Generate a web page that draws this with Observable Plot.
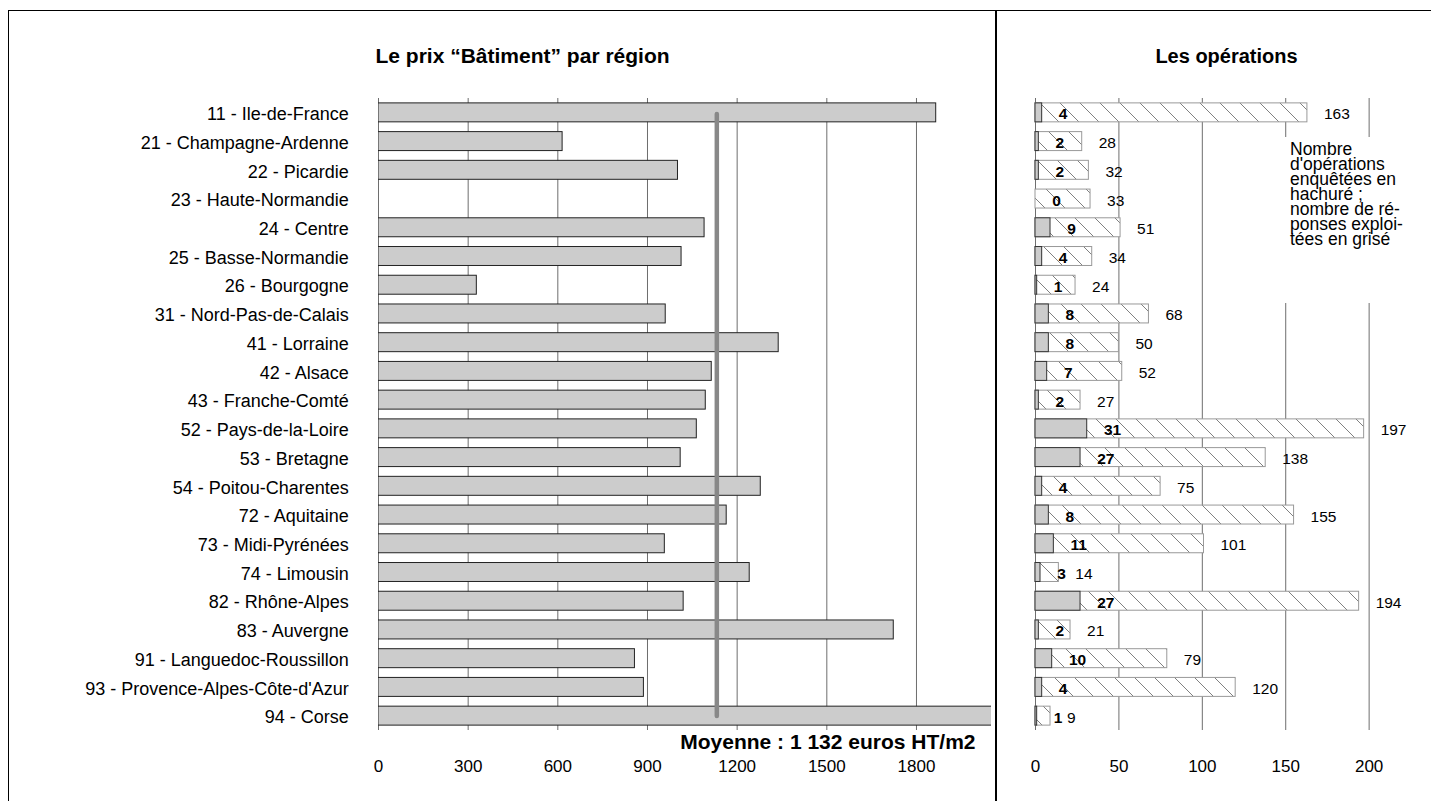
<!DOCTYPE html>
<html>
<head>
<meta charset="utf-8">
<script src="https://cdn.jsdelivr.net/npm/d3@7"></script>
<script src="https://cdn.jsdelivr.net/npm/@observablehq/plot@0.6"></script>
<style>
  html, body { margin: 0; padding: 0; background: #fff; }
  body { font-family: "Liberation Sans", Arial, Helvetica, sans-serif; }
  #wrap { position: relative; width: 1431px; height: 801px; overflow: hidden; background: #fff; }
  #left, #right { position: absolute; top: 0; }
  #left { left: 0; }
  #right { left: 997px; }
  #frame { position: absolute; left: 8px; top: 10px; width: 1440px; height: 800px;
           border-top: 1.5px solid #000; border-left: 1.5px solid #000; box-sizing: border-box; }
  #divider { position: absolute; left: 995px; top: 10px; width: 2px; height: 800px; background: #000; }
  #note { position: absolute; left: 1280px; top: 137px; width: 140px; height: 166px; background: #fff;
          font-size: 17.5px; line-height: 15px; color: #000; box-sizing: border-box;
          padding-left: 10px; padding-top: 5px; white-space: pre; }
</style>
</head>
<body>
<div id="wrap">
  <svg width="0" height="0" style="position:absolute">
    <defs>
      <pattern id="hatch" patternUnits="userSpaceOnUse" width="20" height="20">
        <rect width="20" height="20" fill="#fff"></rect>
        <path d="M-5,-5L25,25M-5,15L5,25M15,-5L25,5" stroke="#808080" stroke-width="1"></path>
      </pattern>
    </defs>
  </svg>
  <div id="left"></div>
  <div id="right"></div>
  <div id="frame"></div>
  <div id="divider"></div>
  <div id="note"></div>
</div>
<script>
// ---- Data ----
const regions = [
  "11 - Ile-de-France", "21 - Champagne-Ardenne", "22 - Picardie", "23 - Haute-Normandie",
  "24 - Centre", "25 - Basse-Normandie", "26 - Bourgogne", "31 - Nord-Pas-de-Calais",
  "41 - Lorraine", "42 - Alsace", "43 - Franche-Comté", "52 - Pays-de-la-Loire",
  "53 - Bretagne", "54 - Poitou-Charentes", "72 - Aquitaine", "73 - Midi-Pyrénées",
  "74 - Limousin", "82 - Rhône-Alpes", "83 - Auvergne", "91 - Languedoc-Roussillon",
  "93 - Provence-Alpes-Côte-d'Azur", "94 - Corse"
];
const prices = [1866, 616, 1002, null, 1091, 1014, 329, 961, 1339, 1115, 1095, 1065,
                1011, 1279, 1165, 958, 1242, 1021, 1724, 858, 888, 2300];
const responses = [4, 2, 2, 0, 9, 4, 1, 8, 8, 7, 2, 31, 27, 4, 8, 11, 3, 27, 2, 10, 4, 1];
const operations = [163, 28, 32, 33, 51, 34, 24, 68, 50, 52, 27, 197, 138, 75, 155, 101, 14, 194, 21, 79, 120, 9];
const meanPrice = 1132;
const priceTicks = [0, 300, 600, 900, 1200, 1500, 1800];
const opTicks = [0, 50, 100, 150, 200];
const leftTitle = "Le prix “Bâtiment” par région";
const rightTitle = "Les opérations";
const meanLabel = "Moyenne : 1 132 euros HT/m2";
const noteLines = ["Nombre", "d'opérations", "enquêtées en", "hachuré ;", "nombre de ré-", "ponses exploi-", "tées en grisé"];

const priceData = regions.map((r, i) => ({region: r, price: prices[i]}));
const opData = regions.map((r, i) => ({region: r, resp: responses[i], total: operations[i]}));

const yScale = {domain: regions, axis: null, paddingInner: 0.34, paddingOuter: 0.17, round: false};
const font = "'Liberation Sans', Arial, Helvetica, sans-serif";

// ---- Left panel ----
const left = Plot.plot({
  width: 997, height: 801,
  marginLeft: 378, marginRight: 6, marginTop: 98, marginBottom: 71,
  style: {fontFamily: font, background: "transparent", overflow: "visible", color: "#000"},
  x: {domain: [0, 2051], axis: null},
  y: yScale,
  marks: [
    Plot.ruleX(priceTicks, {x: d => d, stroke: "#6e6e6e", strokeWidth: 1}),
    Plot.barX(priceData.filter(d => d.price != null), {x: "price", y: "region", fill: "#cccccc", stroke: "#222", strokeWidth: 1, clip: true}),
    Plot.ruleX([meanPrice], {x: d => d, stroke: "#888", strokeWidth: 4.5, strokeLinecap: "round", insetTop: 16, insetBottom: 14}),
    Plot.text(regions, {y: d => d, text: d => d, frameAnchor: "left", textAnchor: "end", dx: -29.7, dy: 1.5, fontSize: 18, fill: "#000"}),
    Plot.text(priceTicks, {x: d => d, text: d => String(d), frameAnchor: "bottom", dy: 41.5, fontSize: 17, fill: "#000"}),
    Plot.text([meanLabel], {text: d => d, frameAnchor: "bottom-right", textAnchor: "end", dx: -16, dy: 18, fontSize: 21, fontWeight: "bold", fill: "#000"}),
    Plot.text([leftTitle], {text: d => d, frameAnchor: "top-left", textAnchor: "start", dx: -3, dy: -50, fontSize: 21, fontWeight: "bold", fill: "#000"})
  ]
});
document.getElementById("left").appendChild(left);

// ---- Right panel ----
const right = Plot.plot({
  width: 434, height: 801,
  marginLeft: 38, marginRight: 29, marginTop: 98, marginBottom: 71,
  style: {fontFamily: font, background: "transparent", overflow: "visible", color: "#000"},
  x: {domain: [0, 220], axis: null},
  y: yScale,
  marks: [
    Plot.ruleX(opTicks, {x: d => d, stroke: "#6e6e6e", strokeWidth: 1}),
    Plot.barX(opData, {x: "total", y: "region", fill: "url(#hatch)", stroke: "#999", strokeWidth: 1}),
    Plot.barX(opData.filter(d => d.resp > 0), {x: "resp", y: "region", fill: "#cccccc", stroke: "#333", strokeWidth: 1}),
    Plot.text(opData, {x: "resp", y: "region", text: d => String(d.resp), textAnchor: "start", dx: 16.7, dy: 1.5, fontSize: 15.5, fontWeight: "bold", fill: "#000"}),
    Plot.text(opData, {x: "total", y: "region", text: d => String(d.total), textAnchor: "start", dx: 16.5, dy: 1.5, fontSize: 15.5, fill: "#000"}),
    Plot.text(opTicks, {x: d => d, text: d => String(d), frameAnchor: "bottom", dy: 41.5, fontSize: 17, fill: "#000"}),
    Plot.text([rightTitle], {text: d => d, frameAnchor: "top-left", textAnchor: "middle", dx: 191, dy: -50, fontSize: 20, fontWeight: "bold", fill: "#000"})
  ]
});
document.getElementById("right").appendChild(right);

document.getElementById("note").textContent = noteLines.join("\n");
</script>
</body>
</html>
